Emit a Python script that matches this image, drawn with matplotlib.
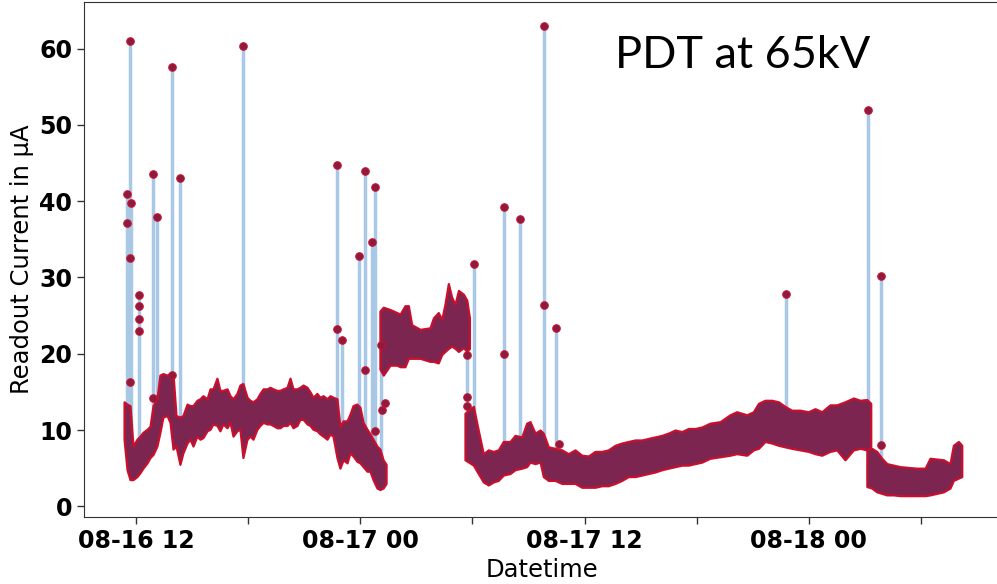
import numpy as np
import pandas as pd
import matplotlib
matplotlib.use('Agg')
import matplotlib.pyplot as plt
import matplotlib.dates as mdates
from matplotlib.ticker import FuncFormatter

# hours counted from 08-16 00:00, values in uA
# dense band of readings: lower / upper envelope, split in four stretches
a_hours = [11.36, 11.52, 11.68, 11.84, 12.05, 12.21, 12.37, 12.59, 12.75, 12.91, 13.12, 13.28,
           13.44, 13.66, 13.82, 13.98, 14.14, 14.35, 14.51, 14.73, 14.89, 15.05, 15.26, 15.42,
           15.58, 15.80, 15.96, 16.12, 16.33, 16.49, 16.65, 16.87, 17.03, 17.19, 17.40, 17.56,
           17.72, 17.94, 18.10, 18.26, 18.47, 18.63, 18.80, 19.01, 19.17, 19.33, 19.54, 19.70,
           19.87, 20.08, 20.24, 20.40, 20.61, 20.77, 20.94, 21.15, 21.31, 21.47, 21.68, 21.84,
           22.01, 22.22, 22.38, 22.54, 22.75, 22.91, 23.08, 23.29, 23.45, 23.61, 23.82, 23.98,
           24.15, 24.36, 24.52, 24.68, 24.89, 25.05, 25.22, 25.38]
a_high = [13.7, 13.4, 13.2, 7.9, 8.8, 9.2, 9.7, 10.1, 10.5, 13.2, 14.1, 17.2,
          17.4, 17.2, 17.4, 17.4, 11.9, 11.7, 11.9, 13.4, 13.2, 13.2, 13.9, 14.1,
          14.5, 14.1, 15.4, 15.4, 16.8, 15.2, 15.2, 15.4, 14.5, 14.1, 14.8, 15.9,
          16.1, 14.3, 13.9, 13.7, 14.1, 14.8, 15.4, 15.4, 15.6, 15.4, 15.2, 15.2,
          15.4, 15.6, 16.8, 15.4, 15.4, 15.6, 15.9, 15.6, 15.0, 14.3, 14.8, 14.3,
          14.5, 14.1, 14.5, 14.3, 14.1, 10.5, 11.2, 11.2, 12.1, 13.2, 13.4, 13.0,
          11.0, 10.1, 9.5, 8.8, 7.9, 7.5, 6.1, 5.5]
a_low = [8.8, 4.8, 3.5, 3.5, 3.9, 4.4, 5.0, 5.7, 6.4, 6.8, 7.9, 9.7,
         11.7, 11.9, 11.0, 7.5, 7.9, 5.5, 7.0, 8.3, 8.8, 7.9, 9.2, 8.8,
         9.0, 9.9, 10.1, 10.8, 10.6, 9.9, 10.8, 10.3, 11.0, 9.2, 9.9, 10.1,
         6.4, 8.8, 9.2, 8.8, 10.1, 10.6, 11.0, 10.8, 10.8, 10.6, 10.3, 10.3,
         10.6, 10.6, 11.0, 10.3, 10.6, 11.4, 11.4, 10.8, 10.6, 10.1, 9.9, 9.5,
         9.2, 8.8, 9.5, 9.2, 6.4, 5.0, 6.1, 5.7, 7.0, 6.6, 5.9, 5.7,
         5.2, 4.6, 4.6, 3.5, 2.4, 2.2, 2.4, 3.0]

b_hours = [25.05, 25.23, 25.59, 25.95, 26.13, 26.39, 26.57, 26.75, 27.20, 27.73, 27.91,
           28.17, 28.36, 28.53, 28.71, 28.89, 29.07, 29.25, 29.52, 29.70, 29.84]
b_high = [25.6, 26.1, 25.8, 25.4, 25.2, 26.3, 26.3, 23.8, 23.2, 23.4, 24.7,
          25.4, 24.5, 26.5, 29.2, 27.4, 26.5, 28.3, 27.8, 27.0, 24.7]
b_low = [18.0, 17.2, 18.5, 18.5, 18.3, 18.3, 19.4, 19.4, 19.4, 19.0, 19.0,
         18.8, 19.9, 20.3, 20.7, 21.0, 20.7, 20.3, 20.8, 20.3, 20.7]

c_hours = [29.60, 30.05, 30.31, 30.58, 30.85, 31.12, 31.38, 31.65, 32.01, 32.28, 32.64,
           32.90, 33.08, 33.35, 33.62, 33.79, 34.06, 34.42, 34.78, 35.13, 35.49, 35.85,
           36.20, 36.56, 36.92, 37.27, 37.63, 37.99, 38.34, 38.70, 39.06, 39.41, 39.77,
           40.13, 40.48, 40.84, 41.20, 41.55, 41.91, 42.27, 42.71, 43.25, 43.78, 44.14,
           44.68, 45.03, 45.30, 45.65, 46.01, 46.37, 46.72, 47.08, 47.53, 47.97, 48.33,
           48.69, 49.13, 49.49, 49.93, 50.38, 50.74, 51.10, 51.31]
c_high = [12.2, 13.1, 10.0, 6.9, 7.4, 7.2, 7.4, 8.5, 8.5, 9.3, 9.1,
          10.9, 11.1, 9.6, 10.0, 9.6, 7.8, 7.6, 7.4, 6.9, 7.4, 6.7,
          6.6, 7.2, 7.2, 7.4, 8.0, 8.3, 8.5, 8.7, 8.7, 8.9, 9.1,
          9.3, 9.6, 10.0, 9.8, 10.2, 10.2, 10.4, 10.9, 11.1, 12.0, 12.4,
          12.0, 12.4, 13.5, 13.9, 13.9, 13.7, 13.1, 12.6, 12.6, 12.4, 12.8,
          12.4, 13.3, 13.3, 13.7, 14.2, 13.9, 14.0, 13.5]
c_low = [6.1, 5.4, 4.3, 3.2, 2.8, 3.2, 3.4, 4.1, 4.3, 4.8, 5.0,
         5.2, 5.8, 5.6, 5.8, 3.9, 3.4, 3.4, 3.0, 3.0, 3.0, 2.5,
         2.5, 2.5, 2.7, 2.7, 3.0, 3.4, 3.9, 3.9, 4.1, 4.3, 4.5,
         4.8, 5.0, 5.2, 5.4, 5.4, 5.6, 5.8, 6.3, 6.5, 6.7, 6.9,
         6.7, 7.4, 7.6, 8.5, 8.3, 8.0, 7.8, 7.6, 7.4, 7.2, 6.9,
         6.7, 7.2, 7.4, 6.1, 7.4, 7.6, 7.4, 7.8]

d_hours = [51.10, 51.36, 51.63, 51.90, 52.17, 52.52, 52.88, 53.32, 53.77, 54.22, 54.48,
           54.84, 55.20, 55.55, 55.73, 56.00, 56.18]
d_high = [7.4, 7.6, 7.2, 6.3, 5.6, 5.4, 5.2, 5.1, 5.0, 5.0, 6.3, 6.2, 6.1, 5.6, 8.0, 8.5, 8.0]
d_low = [2.6, 2.4, 1.9, 1.7, 1.5, 1.5, 1.4, 1.4, 1.4, 1.4, 1.5, 1.7, 1.9, 2.4, 3.4, 3.7, 3.9]

# single readings that jump away from the band
spike_hours = [11.50, 11.68, 11.73, 12.14, 12.89, 13.11, 13.91, 14.35, 17.71, 22.74, 23.02,
               23.95, 24.24, 24.63, 24.77, 25.10, 29.70, 30.09, 31.69, 32.55, 33.81, 34.47,
               46.76, 51.18, 51.88]
spike_base = [10, 10, 10, 7, 8, 10, 14, 10, 12, 12, 9,
              9, 9, 6, 6, 5, 12, 12, 7, 8, 9, 6,
              13, 8, 6]
spike_top = [41.0, 61.0, 39.8, 27.7, 43.6, 37.9, 57.6, 43.1, 60.3, 44.7, 21.8,
             32.8, 44.0, 34.6, 41.8, 21.2, 19.9, 31.8, 39.3, 37.6, 63.0, 23.4,
             27.8, 52.0, 30.2]

# other isolated points sitting on the spikes
dot_hours = [11.50, 11.68, 11.68, 12.14, 12.14, 12.14, 12.89, 13.91, 22.74, 24.24, 24.77,
             25.14, 25.34, 29.70, 29.70, 31.69, 33.81, 34.63, 51.88]
dot_values = [37.1, 32.5, 16.3, 26.3, 24.5, 23.0, 14.2, 17.2, 23.2, 17.9, 9.9,
              12.6, 13.5, 14.3, 13.1, 20.0, 26.4, 8.2, 8.0]

t0 = pd.Timestamp('2023-08-16')


def to_time(hours):
    return t0 + pd.to_timedelta(np.array(hours), unit='h')


line_color = '#a9c8e6'
fill_color = '#7b2550'
edge_color = '#c8102e'

fig = plt.figure(figsize=(9.97, 5.84), dpi=100)
ax = fig.add_axes([0.0843, 0.1147, 0.9188, 0.8818])

ax.vlines(to_time(spike_hours), spike_base, spike_top, color=line_color, linewidth=2.5, zorder=1)

for hrs, lo, hi in [(a_hours, a_low, a_high), (b_hours, b_low, b_high),
                    (c_hours, c_low, c_high), (d_hours, d_low, d_high)]:
    poly = ax.fill_between(to_time(hrs), lo, hi, facecolor=fill_color, edgecolor=edge_color,
                           linewidth=1.6, zorder=2)
    poly.set_joinstyle('round')

ax.plot(to_time(spike_hours), spike_top, linestyle='none', marker='o', markersize=5.4,
        markerfacecolor='#8a1c40', markeredgecolor=edge_color, markeredgewidth=0.8, zorder=3)
ax.plot(to_time(dot_hours), dot_values, linestyle='none', marker='o', markersize=5.4,
        markerfacecolor='#8a1c40', markeredgecolor=edge_color, markeredgewidth=0.8, zorder=3)

ax.set_xlim(to_time([9.22])[0], to_time([58.23])[0])
ax.set_ylim(-1.4, 66.1)

ax.xaxis.set_major_locator(mdates.HourLocator(byhour=[0, 6, 12, 18]))


def fmt_date(x, pos):
    d = mdates.num2date(x)
    if d.hour in (0, 12):
        return d.strftime('%m-%d %H')
    return ''


ax.xaxis.set_major_formatter(FuncFormatter(fmt_date))
ax.set_yticks([0, 10, 20, 30, 40, 50, 60])
ax.tick_params(axis='both', labelsize=17, length=5, width=1, color='#333333')
for lab in ax.get_xticklabels() + ax.get_yticklabels():
    lab.set_fontweight('bold')

ax.set_xlabel('Datetime', fontsize=17.5)
ax.set_ylabel('Readout Current in μA', fontsize=17.5)

for s in ax.spines.values():
    s.set_color('#333333')

fig.text(615 / 997, 1 - 68 / 584, 'PDT at 65kV', fontsize=32.5, family='Lato',
         va='baseline', ha='left')

fig.savefig('out.png', dpi=100)
